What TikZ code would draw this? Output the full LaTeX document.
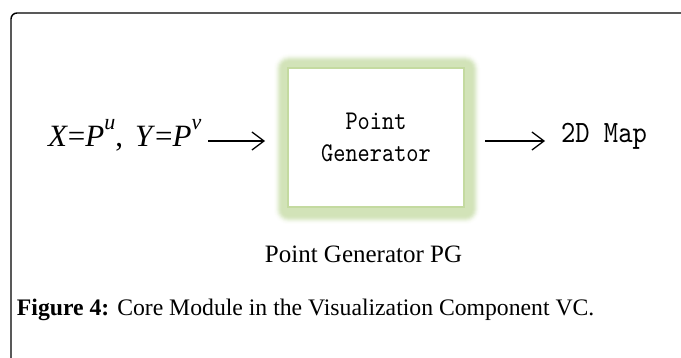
\documentclass[tikz,border=0pt]{standalone}
\usepackage{fontspec}
\setmainfont{Liberation Serif}
\newfontfamily\boxmono{lmmono10-regular}[Extension=.otf, FakeStretch=0.86]
\newfontfamily\mapmono{lmmono10-regular}[Extension=.otf, FakeStretch=0.88]
\usetikzlibrary{arrows.meta}
\definecolor{glowgreen}{RGB}{210,227,184}
\definecolor{boxline}{RGB}{196,218,160}
\newcommand{\supr}[1]{\raisebox{8.5pt}{\fontsize{11}{11}\selectfont\itshape #1}}
\tikzset{
  txt/.style={inner sep=0pt, outer sep=0pt},
  arr/.style={line width=0.65pt, -{Straight Barb[length=6pt,width=9pt,line width=0.65pt]}},
}
\begin{document}
\begin{tikzpicture}[x=0.5pt,y=-0.5pt]
\useasboundingbox (0,0) rectangle (681,358);
\clip (0,0) rectangle (681,358);
\fill[white] (0,0) rectangle (681,358);
% outer frame
\draw[line width=0.7pt, rounded corners=3pt] (11,420) -- (11,13) -- (760,13);
% glow
\foreach \d/\p in {15/5,14/12,13/24,12/40,11/58,10/75,9/88,8/96,7/100,6/100} {
  \fill[glowgreen!\p!white, rounded corners=\d*0.5pt] ({289-\d},{69-\d}) rectangle ({465+\d},{209+\d});
}
% main box
\node[draw=boxline, line width=0.6pt, fill=white, minimum width=88pt, minimum height=69.5pt,
      inner sep=0pt, outer sep=0pt, align=center,
      font=\boxmono\fontsize{13.5}{16}\selectfont] (pg) at (376,137.5) {Point\\Generator};
% texts
\node[txt, anchor=base west, font=\fontsize{15.5}{18}\selectfont] (xy) at (48,147)
  {\textit{X}=\textit{P}\supr{u},\hspace{6pt}\textit{Y}=\textit{P}\supr{v}};
\node[txt, anchor=base west, font=\mapmono\fontsize{15.5}{18}\selectfont] (map) at (561,143) {2D Map};
\node[txt, anchor=base, font=\fontsize{12.5}{15}\selectfont] (pglabel) at (363.5,263) {Point Generator PG};
\node[txt, anchor=base west, font=\fontsize{11.85}{14}\selectfont] (cap) at (17,315)
  {\textbf{Figure 4:} Core Module in the Visualization Component VC.};
% arrows
\coordinate (row) at (0,141);
\draw[arr, shorten <=3.5pt, shorten >=11.5pt] (xy.east |- row) -- (pg.west |- row);
\draw[arr, shorten <=10.5pt, shorten >=8pt] (pg.east |- row) -- (map.west |- row);
\end{tikzpicture}
\end{document}
